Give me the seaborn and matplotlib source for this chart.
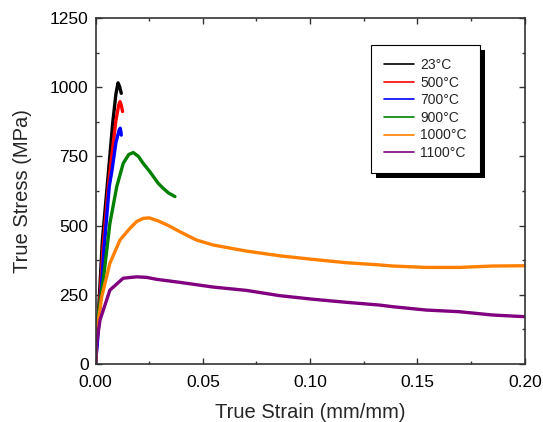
import numpy as np
import pandas as pd
import matplotlib
matplotlib.use("Agg")
import matplotlib.pyplot as plt
import seaborn as sns
from matplotlib.patches import Rectangle
from matplotlib.ticker import MultipleLocator, FormatStrFormatter

labels = ["23°C", "500°C", "700°C", "900°C", "1000°C", "1100°C"]
colors = ["#000000", "#ff0000", "#0000ff", "#008000", "#ff8000", "#800080"]

strain_23 = [0, 0.0010, 0.0032, 0.0061, 0.0080, 0.0095, 0.0105, 0.0113, 0.0120]
stress_23 = [0, 130, 448, 700, 870, 975, 1016, 1000, 978]

strain_500 = [0, 0.0010, 0.0035, 0.0061, 0.0077, 0.0095, 0.0108, 0.0114, 0.0120, 0.0126]
stress_500 = [0, 110, 420, 653, 761, 880, 935, 948, 935, 912]

strain_700 = [0, 0.0010, 0.0040, 0.0064, 0.0077, 0.0095, 0.0110, 0.0115, 0.0118, 0.0120]
stress_700 = [0, 90, 420, 641, 701, 800, 845, 852, 840, 827]

strain_900 = [0, 0.0005, 0.0036, 0.0067, 0.0099, 0.0129, 0.0155, 0.0176, 0.0200,
              0.0222, 0.0253, 0.0292, 0.0315, 0.0340, 0.0370]
stress_900 = [0, 135, 303, 508, 641, 725, 757, 764, 750,
              725, 695, 653, 635, 618, 605]

strain_1000 = [0, 0.0005, 0.0029, 0.0067, 0.0114, 0.0160, 0.0192, 0.0222, 0.0250,
               0.0292, 0.0340, 0.0393, 0.0470, 0.0548, 0.0703, 0.0858, 0.1013,
               0.1168, 0.1323, 0.1385, 0.1540, 0.1695, 0.1850, 0.2000]
stress_1000 = [0, 111, 243, 364, 448, 490, 515, 526, 528,
               517, 500, 478, 448, 430, 408, 391, 378,
               366, 358, 354, 349, 349, 354, 355]

strain_1100 = [0, 0.0003, 0.0021, 0.0067, 0.0129, 0.0192, 0.0238, 0.0285, 0.0393,
               0.0548, 0.0703, 0.0858, 0.1013, 0.1168, 0.1323, 0.1385, 0.1540,
               0.1695, 0.1850, 0.2000]
stress_1100 = [0, 63, 159, 267, 310, 315, 313, 306, 295,
               278, 266, 247, 234, 223, 213, 207, 195,
               189, 177, 171]

series = [(strain_23, stress_23), (strain_500, stress_500), (strain_700, stress_700),
          (strain_900, stress_900), (strain_1000, stress_1000), (strain_1100, stress_1100)]

frames = []
for lab, (sx, sy) in zip(labels, series):
    frames.append(pd.DataFrame({"strain": sx, "stress": sy, "T": lab}))
df = pd.concat(frames, ignore_index=True)

sns.set_style("ticks")
plt.rcParams["font.family"] = ["Liberation Sans", "DejaVu Sans"]

fig = plt.figure(figsize=(5.43, 4.22), dpi=100)
ax = fig.add_axes([0.1759, 0.1374, 0.7905, 0.8199])

sns.lineplot(data=df, x="strain", y="stress", hue="T", hue_order=labels,
             palette=dict(zip(labels, colors)), sort=False, estimator=None,
             linewidth=2.4, ax=ax, legend=True)

ax.set_xlim(0, 0.2)
ax.set_ylim(0, 1250)
ax.xaxis.set_major_locator(MultipleLocator(0.05))
ax.xaxis.set_minor_locator(MultipleLocator(0.025))
ax.yaxis.set_major_locator(MultipleLocator(250))
ax.yaxis.set_minor_locator(MultipleLocator(125))
ax.xaxis.set_major_formatter(FormatStrFormatter("%.2f"))
ax.tick_params(which="both", direction="in", top=True, right=True,
               labelsize=12.5, colors="#333333", labelcolor="black", width=1)
ax.tick_params(which="major", length=4.5)
ax.tick_params(which="minor", length=2.5)
ax.tick_params(axis="x", which="major", pad=8)
ax.tick_params(axis="y", which="major", pad=5)
for sp in ax.spines.values():
    sp.set_visible(True)
    sp.set_color("#333333")
    sp.set_linewidth(1.2)

ax.set_xlabel("True Strain (mm/mm)", fontsize=14.5, labelpad=9)
ax.set_ylabel("True Stress (MPa)", fontsize=14.5, labelpad=13)

handles, lbls = ax.get_legend_handles_labels()
leg = ax.legend(handles, lbls, loc="upper left", bbox_to_anchor=(0.6425, 0.922),
                borderaxespad=0, fontsize=10, frameon=True, fancybox=False,
                handlelength=2.16, handletextpad=0.4, borderpad=0.95,
                labelspacing=0.255)
leg.get_frame().set_edgecolor("black")
leg.get_frame().set_linewidth(0.8)
leg.get_frame().set_alpha(1)
for h in leg.get_lines():
    h.set_linewidth(1.2)
leg.set_zorder(10)

fig.canvas.draw()
bb = leg.get_window_extent()
sh = Rectangle((bb.x0 + 5, bb.y0 - 5), bb.width, bb.height, transform=None,
               facecolor="black", edgecolor="none", clip_on=False, zorder=9)
ax.add_artist(sh)

fig.savefig("out.png", dpi=100)
